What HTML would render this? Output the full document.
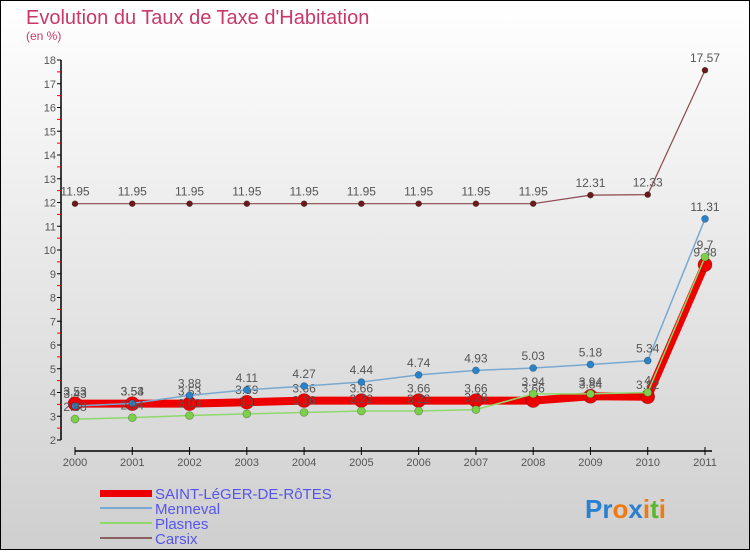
<!DOCTYPE html>
<html><head><meta charset="utf-8"><style>
body{margin:0}
svg text{font-family:"Liberation Sans",sans-serif}
</style></head><body>
<svg width="750" height="550" xmlns="http://www.w3.org/2000/svg">
<defs><linearGradient id="bg" x1="0" y1="0" x2="0" y2="1"><stop offset="0" stop-color="#ffffff"/><stop offset="1" stop-color="#cfcfcf"/></linearGradient></defs>
<rect x="0.5" y="0.5" width="749" height="549" fill="url(#bg)" stroke="#000"/>
<text x="26" y="24" font-size="20" fill="#c8386a">Evolution du Taux de Taxe d'Habitation</text>
<text x="26" y="40" font-size="12" fill="#c8386a">(en %)</text>
<g id="axes"></g><g id="series"></g>
<g>
<rect x="100" y="490" width="52" height="7" fill="#e00"/>
<text x="155" y="499" font-size="15" fill="#5555ee">SAINT-LéGER-DE-RôTES</text>
<line x1="100" y1="508" x2="152" y2="508" stroke="#79a9d0" stroke-width="2"/>
<text x="155" y="514" font-size="15" fill="#5555ee">Menneval</text>
<line x1="100" y1="523" x2="152" y2="523" stroke="#8fd86c" stroke-width="2"/>
<text x="155" y="529" font-size="15" fill="#5555ee">Plasnes</text>
<line x1="100" y1="538" x2="152" y2="538" stroke="#8a6060" stroke-width="2"/>
<text x="155" y="544" font-size="15" fill="#5555ee">Carsix</text>
</g>
<g font-size="26" font-weight="bold">
<text x="585" y="518"><tspan fill="#2a7fd0">Pr</tspan><tspan fill="#f07a10">o</tspan><tspan fill="#2a7fd0">x</tspan><tspan fill="#f07a10">i</tspan><tspan fill="#5cb82a">t</tspan><tspan fill="#f07a10">i</tspan></text>
</g>
</svg>
<script>
const years=[2000,2001,2002,2003,2004,2005,2006,2007,2008,2009,2010,2011];
const saintLeger=[3.53,3.53,3.53,3.59,3.66,3.66,3.66,3.66,3.66,3.84,3.82,9.38];
const menneval=[3.43,3.54,3.88,4.11,4.27,4.44,4.74,4.93,5.03,5.18,5.34,11.31];
const plasnes=[2.88,2.94,3.03,3.1,3.16,3.22,3.22,3.28,3.94,3.94,4.0,9.7];
const carsix=[11.95,11.95,11.95,11.95,11.95,11.95,11.95,11.95,11.95,12.31,12.33,17.57];
const yTicks=[2,3,4,5,6,7,8,9,10,11,12,13,14,15,16,17,18];
const NS="http://www.w3.org/2000/svg";
const xS=i=>75+i*(630/11);
const yS=v=>440-(v-2)*23.75;
function mk(t,a,p){const e=document.createElementNS(NS,t);for(const k in a)e.setAttribute(k,a[k]);p.appendChild(e);return e;}
const ax=document.getElementById('axes');
let l=mk('line',{x1:61,y1:60,x2:61,y2:440,stroke:'#000','stroke-width':1.5},ax);


yTicks.forEach(v=>{
 mk('line',{x1:57,y1:yS(v),x2:61,y2:yS(v),stroke:'#000'},ax);
 if(v<18)mk('line',{x1:57,y1:yS(v+0.5),x2:61,y2:yS(v+0.5),stroke:'#e00'},ax);
 const t=mk('text',{x:56,y:yS(v)+4,'font-size':11,fill:'#555','text-anchor':'end'},ax);
 
 
 t.textContent=v;
});
l=mk('line',{x1:75,y1:451,x2:712,y2:451,stroke:'#000','stroke-width':1.5},ax);


years.forEach((y,i)=>{
 mk('line',{x1:xS(i),y1:447,x2:xS(i),y2:455,stroke:'#000'},ax);
 const t=mk('text',{x:xS(i),y:466,'font-size':11,fill:'#555','text-anchor':'middle'},ax);
 
 
 t.textContent=y;
});
const sg=document.getElementById('series');
function series(name,data,color,w,r,dot){
 const g=mk('g',{},sg);
 
 
 mk('polyline',{points:data.map((v,i)=>xS(i)+','+yS(v)).join(' '),fill:'none',stroke:color,'stroke-width':w,'stroke-linejoin':'round'},g);
 data.forEach((v,i)=>{
  const c=mk('circle',{cx:xS(i),cy:yS(v),r:r,fill:dot,stroke:'rgba(0,0,0,0.3)','stroke-width':0.7},g);
  
  
  const t=mk('text',{x:xS(i),y:yS(v)-8,'font-size':12,fill:'#555','text-anchor':'middle'},g);
  
  
  t.textContent=v;
 });
}
series('carsix-series',carsix,'#8a4a4a',1.2,3,'#6a1a1a');
series('saint-leger-series',saintLeger,'#ee0000',8,7,'#ee0000');
series('menneval-series',menneval,'#79a9d0',1.5,3.5,'#2a82c8');
series('plasnes-series',plasnes,'#8fd86c',1.5,4,'#7ccf4a');
</script>
</body></html>
